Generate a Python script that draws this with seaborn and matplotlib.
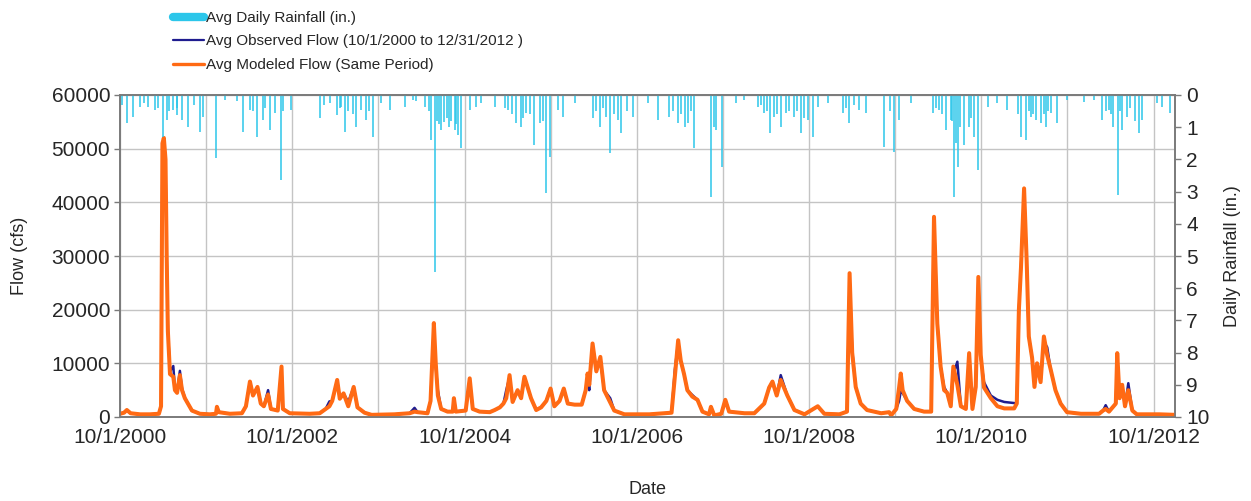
import matplotlib
matplotlib.use("Agg")
import matplotlib.pyplot as plt
import matplotlib.ticker as mticker
import pandas as pd
import seaborn as sns
from matplotlib.lines import Line2D

# ---------------- data ----------------
flow_dates = [
    "2000-10-01", "2000-10-18", "2000-10-30", "2000-11-15", "2000-12-25", "2001-02-05", "2001-03-15",
    "2001-03-24", "2001-03-30", "2001-04-05", "2001-04-12", "2001-04-17", "2001-04-22", "2001-05-01",
    "2001-05-15", "2001-05-22", "2001-05-31", "2001-06-12", "2001-06-21", "2001-07-03", "2001-07-16",
    "2001-08-02", "2001-09-05", "2001-10-17", "2001-11-12", "2001-11-16", "2001-11-24", "2002-01-10",
    "2002-03-02", "2002-03-19", "2002-04-05", "2002-04-18", "2002-05-07", "2002-05-21", "2002-06-03",
    "2002-06-21", "2002-07-03", "2002-08-01", "2002-08-17", "2002-08-23", "2002-09-21", "2002-12-14",
    "2003-01-26", "2003-02-20", "2003-03-08", "2003-03-20", "2003-04-10", "2003-04-21", "2003-05-07",
    "2003-05-27", "2003-06-19", "2003-07-05", "2003-08-04", "2003-09-03", "2003-12-09", "2004-02-11",
    "2004-03-03", "2004-03-16", "2004-04-27", "2004-05-10", "2004-05-24", "2004-06-01", "2004-06-10",
    "2004-06-24", "2004-07-21", "2004-08-12", "2004-08-17", "2004-08-25", "2004-10-06", "2004-10-23",
    "2004-11-05", "2004-12-04", "2005-01-16", "2005-02-06", "2005-02-28", "2005-03-15", "2005-03-27",
    "2005-04-10", "2005-04-23", "2005-05-14", "2005-05-29", "2005-06-12", "2005-07-10", "2005-08-01",
    "2005-08-22", "2005-09-13", "2005-10-01", "2005-10-17", "2005-11-08", "2005-11-26", "2005-12-13",
    "2006-01-11", "2006-02-10", "2006-02-27", "2006-03-07", "2006-03-14", "2006-03-28", "2006-04-13",
    "2006-04-30", "2006-05-16", "2006-06-11", "2006-06-28", "2006-08-10", "2006-09-22", "2006-11-24",
    "2007-02-26", "2007-03-12", "2007-03-26", "2007-04-06", "2007-04-20", "2007-05-04", "2007-05-25",
    "2007-06-16", "2007-07-07", "2007-08-04", "2007-08-12", "2007-08-26", "2007-09-25", "2007-10-12",
    "2007-10-28", "2008-01-01", "2008-02-12", "2008-03-25", "2008-04-15", "2008-04-29", "2008-05-17",
    "2008-06-03", "2008-07-01", "2008-07-31", "2008-09-12", "2008-11-07", "2008-12-05", "2009-02-07",
    "2009-03-11", "2009-03-22", "2009-04-02", "2009-04-17", "2009-05-08", "2009-06-04", "2009-08-03",
    "2009-09-06", "2009-09-14", "2009-10-06", "2009-10-18", "2009-10-25", "2009-11-02", "2009-11-21",
    "2009-12-21", "2010-02-01", "2010-03-03", "2010-03-15", "2010-03-29", "2010-04-12", "2010-04-27",
    "2010-05-10", "2010-05-25", "2010-06-05", "2010-06-22", "2010-07-07", "2010-07-28", "2010-08-11",
    "2010-08-25", "2010-09-08", "2010-09-19", "2010-09-29", "2010-10-13", "2010-11-11", "2010-12-09",
    "2011-01-07", "2011-02-18", "2011-03-01", "2011-03-10", "2011-03-19", "2011-04-01", "2011-04-12",
    "2011-04-21", "2011-05-05", "2011-05-15", "2011-05-26", "2011-06-10", "2011-06-24", "2011-07-08",
    "2011-07-22", "2011-08-12", "2011-09-03", "2011-09-30", "2011-11-28", "2012-02-13", "2012-03-01",
    "2012-03-12", "2012-03-26", "2012-04-24", "2012-04-30", "2012-05-10", "2012-05-21", "2012-06-02",
    "2012-06-16", "2012-07-03", "2012-07-22", "2012-10-25", "2012-12-31",
]
modeled_cfs = [
    600, 800, 1300, 700, 500, 500, 600,
    2000, 51000, 52000, 48000, 30000, 16000, 8000,
    7500, 5000, 4500, 7800, 5000, 3500, 2500,
    1200, 600, 500, 600, 1900, 900, 600,
    700, 2000, 6600, 4000, 5600, 2500, 2000,
    4200, 1500, 1200, 9400, 1500, 700, 600,
    700, 1500, 2000, 3000, 6900, 3400, 4400,
    2000, 5600, 1800, 800, 400, 500, 700,
    1000, 900, 700, 3000, 17500, 10000, 4000,
    1500, 1000, 1000, 3500, 1000, 1200, 7200,
    1500, 1000, 900, 1300, 1800, 2500, 3500,
    7800, 2800, 5000, 3500, 7500, 3500, 1300,
    1800, 3000, 5300, 2000, 3000, 5300, 2500,
    2300, 2300, 5000, 8100, 6000, 13700, 8500,
    11200, 5000, 2700, 1200, 500, 500, 500,
    800, 7500, 14300, 10500, 8000, 5000, 3800,
    3200, 1000, 500, 1900, 300, 600, 3200,
    1000, 700, 700, 2500, 5500, 6600, 4000,
    6900, 4000, 1300, 500, 2000, 600, 500,
    1000, 26800, 12000, 5600, 2500, 1300, 700,
    900, 300, 1500, 5500, 8100, 5000, 3000,
    1500, 1000, 1000, 37300, 17400, 9400, 5000,
    4500, 2000, 9400, 6000, 2000, 1500, 11900,
    1500, 5600, 26100, 11600, 5500, 3500, 2000,
    1600, 1600, 2500, 20000, 28000, 42600, 29000,
    15000, 11000, 5600, 10000, 6500, 15000, 11500,
    9000, 5000, 2500, 900, 600, 600, 1200,
    1500, 1000, 2500, 11900, 3500, 6000, 2000,
    5000, 1200, 500, 500, 400,
]
observed_cfs = [
    600, 800, 1300, 700, 500, 500, 600,
    2000, 50000, 51500, 47000, 30000, 16500, 8500,
    9500, 5200, 4800, 8600, 5300, 3600, 2500,
    1200, 600, 500, 600, 1900, 900, 600,
    700, 2000, 6600, 4000, 5600, 2500, 2000,
    5000, 1500, 1200, 9000, 1500, 700, 600,
    700, 1500, 2900, 3000, 6800, 3400, 4400,
    2800, 5600, 1800, 800, 400, 500, 700,
    1700, 900, 700, 3000, 17000, 9500, 5000,
    1500, 1000, 1000, 3500, 1000, 1200, 7000,
    1500, 1000, 900, 1300, 1800, 2500, 5000,
    7500, 2800, 5000, 3500, 7500, 3500, 1300,
    1800, 3000, 5300, 2000, 3000, 5300, 2500,
    2300, 2300, 5000, 7000, 5000, 13500, 8500,
    11000, 5000, 3500, 1200, 500, 500, 500,
    800, 8800, 14000, 10500, 8000, 5000, 4100,
    3200, 1000, 500, 1900, 300, 600, 3200,
    1000, 700, 700, 2500, 5500, 6600, 4000,
    7800, 4000, 1300, 500, 2000, 600, 500,
    1000, 26000, 12500, 5600, 2500, 1300, 700,
    900, 300, 1500, 3000, 4800, 4500, 3000,
    1500, 1000, 1000, 37000, 17400, 9400, 5600,
    4500, 2000, 8000, 10300, 2000, 1500, 11500,
    1500, 6500, 25500, 11000, 6500, 4000, 3200,
    2800, 2600, 2500, 20000, 28000, 42000, 29000,
    15000, 11000, 6500, 10000, 6500, 14000, 13000,
    9000, 5000, 2500, 900, 600, 600, 1200,
    2200, 1000, 2500, 11500, 3500, 6000, 2000,
    6300, 1200, 500, 500, 400,
]

rain_dates = [
    "2000-10-29", "2000-11-26", "2000-12-25", "2001-01-29", "2001-02-26", "2001-04-02", "2001-04-17",
    "2001-05-15", "2001-05-29", "2001-06-19", "2001-07-17", "2001-09-05", "2001-09-19", "2001-11-14",
    "2001-12-20", "2002-03-07", "2002-04-05", "2002-05-03", "2002-05-31", "2002-06-28", "2002-07-20",
    "2002-08-13", "2002-09-28", "2003-01-26", "2003-03-09", "2003-04-11", "2003-04-28", "2003-05-12",
    "2003-06-30", "2003-07-22", "2003-08-12", "2003-09-09", "2003-10-14", "2003-11-18", "2004-01-21",
    "2004-02-25", "2004-04-15", "2004-05-13", "2004-05-27", "2004-06-24", "2004-07-08", "2004-07-29",
    "2004-08-20", "2004-09-03", "2004-09-17", "2004-10-23", "2004-11-20", "2004-12-12", "2005-02-06",
    "2005-04-03", "2005-05-09", "2005-05-30", "2005-06-20", "2005-07-22", "2005-08-16", "2005-09-10",
    "2005-09-27", "2005-11-01", "2005-11-22", "2006-01-11", "2006-03-29", "2006-04-27", "2006-05-25",
    "2006-06-12", "2006-07-13", "2006-07-28", "2006-09-15", "2006-11-17", "2006-12-29", "2007-02-17",
    "2007-03-24", "2007-04-22", "2007-05-06", "2007-06-03", "2007-08-13", "2007-09-03", "2007-09-30",
    "2007-11-26", "2008-01-01", "2008-02-26", "2008-03-25", "2008-04-20", "2008-05-07", "2008-06-04",
    "2008-06-25", "2008-07-30", "2008-08-28", "2008-09-25", "2008-10-17", "2008-11-07", "2008-12-19",
    "2009-02-21", "2009-03-21", "2009-05-03", "2009-05-31", "2009-08-16", "2009-09-28", "2009-10-19",
    "2009-12-07", "2010-03-09", "2010-04-06", "2010-05-05", "2010-05-26", "2010-06-09", "2010-06-26",
    "2010-07-21", "2010-08-11", "2010-09-02", "2010-09-18", "2010-10-28", "2010-12-09", "2011-01-20",
    "2011-03-18", "2011-04-08", "2011-04-30", "2011-05-21", "2011-06-11", "2011-07-02", "2011-07-23",
    "2011-08-20", "2011-10-01", "2011-12-11", "2012-01-23", "2012-02-27", "2012-03-26", "2012-04-13",
    "2012-05-03", "2012-05-21", "2012-06-12", "2012-07-31", "2012-08-14", "2012-10-17", "2012-11-07",
    "2012-12-10",
    # smaller events in the dense fringe
    "2000-10-10", "2001-01-10", "2001-03-10", "2001-04-25", "2001-06-01", "2001-08-10", "2002-02-10",
    "2002-04-20", "2002-06-10", "2002-08-25", "2003-02-15", "2003-04-20", "2003-05-25", "2003-06-15",
    "2003-08-25", "2004-03-10", "2004-05-05", "2004-06-05", "2004-06-15", "2004-07-18", "2004-08-05",
    "2004-08-28", "2005-03-20", "2005-04-20", "2005-06-05", "2005-07-05", "2005-08-30", "2006-04-10",
    "2006-05-10", "2006-06-25", "2006-08-20", "2007-03-05", "2007-04-05", "2007-05-20", "2007-08-25",
    "2008-03-10", "2008-04-05", "2008-05-20", "2008-07-10", "2008-08-10", "2008-09-10", "2009-03-05",
    "2009-04-10", "2009-09-10", "2010-03-25", "2010-04-20", "2010-06-01", "2010-06-18", "2010-07-05",
    "2010-08-20", "2011-03-05", "2011-04-20", "2011-05-10", "2011-06-25", "2011-07-12", "2012-03-12",
    "2012-04-05", "2012-05-12", "2012-06-25", "2012-07-15",
]
rain_in = [
    0.88, 0.67, 0.36, 0.36, 0.47, 1.30, 0.78,
    0.47, 0.62, 0.78, 0.98, 1.14, 0.67, 1.97,
    0.16, 1.14, 0.47, 1.30, 0.78, 1.09, 0.57,
    2.64, 0.47, 0.72, 0.26, 0.62, 0.36, 1.14,
    0.98, 0.47, 0.78, 1.30, 0.26, 0.47, 0.36,
    0.16, 0.36, 1.40, 5.49, 1.09, 0.83, 0.98,
    1.09, 1.24, 1.66, 0.47, 0.36, 0.26, 0.36,
    0.47, 0.88, 0.98, 0.57, 1.55, 0.88, 3.05,
    1.91, 0.47, 0.67, 0.26, 0.72, 0.98, 0.67,
    1.81, 0.78, 1.19, 0.67, 0.26, 0.78, 0.67,
    0.88, 0.98, 0.88, 1.66, 3.16, 1.09, 2.23,
    0.26, 0.16, 0.36, 0.57, 1.19, 0.67, 0.98,
    0.57, 0.67, 1.19, 0.78, 1.30, 0.36, 0.26,
    0.57, 0.88, 0.47, 0.57, 1.60, 1.76, 0.78,
    0.26, 0.57, 0.47, 1.09, 0.78, 3.16, 2.23,
    1.55, 0.98, 1.30, 2.33, 0.36, 0.26, 0.47,
    1.30, 1.40, 0.67, 0.78, 0.88, 0.98, 0.57,
    0.88, 0.16, 0.21, 0.16, 0.78, 0.47, 0.98,
    3.10, 1.09, 0.67, 1.19, 0.78, 0.26, 0.36,
    0.57,
    0.30, 0.25, 0.40, 0.50, 0.40, 0.30, 0.20,
    0.50, 0.40, 0.50, 0.30, 0.40, 0.50, 0.60,
    0.50, 0.20, 0.50, 0.80, 0.90, 0.70, 0.80,
    0.90, 0.40, 0.60, 0.70, 0.60, 0.80, 0.50,
    0.40, 0.60, 0.50, 0.50, 0.60, 0.50, 1.00,
    0.30, 0.50, 0.60, 0.50, 0.50, 0.70, 0.40,
    0.30, 0.50, 0.40, 0.60, 0.80, 1.50, 1.00,
    0.70, 0.60, 0.50, 0.60, 0.60, 0.50, 0.50,
    0.60, 0.50, 0.40, 0.80,
]

xtick_dates = ["2000-10-01", "2001-10-01", "2002-10-01", "2003-10-01", "2004-10-01", "2005-10-01",
               "2006-10-01", "2007-10-01", "2008-10-01", "2009-10-01", "2010-10-01", "2011-10-01",
               "2012-10-01"]
xtick_labels = ["10/1/2000", "", "10/1/2002", "", "10/1/2004", "", "10/1/2006", "", "10/1/2008", "",
                "10/1/2010", "", "10/1/2012"]
flow_ticks = [0, 10000, 20000, 30000, 40000, 50000, 60000]
rain_ticks = [0, 1, 2, 3, 4, 5, 6, 7, 8, 9, 10]
x_start, x_end = "2000-10-01", "2012-12-31"

legend_labels = ["Avg Daily Rainfall (in.)",
                 "Avg Observed Flow (10/1/2000 to 12/31/2012 )",
                 "Avg Modeled Flow (Same Period)"]

# ---------------- style ----------------
sns.set_style("white")
plt.rcParams["font.family"] = ["Liberation Sans", "DejaVu Sans"]

RAIN_C = "#2CC6EA"
OBS_C = "#1F1C8F"
MOD_C = "#FF6A14"
GRID_C = "#C4C4C4"
SPINE_C = "#7A7A7A"

fig = plt.figure(figsize=(12.51, 5.01), dpi=100)
ax = fig.add_axes([120 / 1251, 1 - 417 / 501, 1055 / 1251, 322 / 501])

df = pd.DataFrame({
    "Date": pd.to_datetime(flow_dates),
    "Observed": observed_cfs,
    "Modeled": modeled_cfs,
})

sns.lineplot(data=df, x="Date", y="Observed", ax=ax, color=OBS_C, linewidth=1.8, zorder=3)
sns.lineplot(data=df, x="Date", y="Modeled", ax=ax, color=MOD_C, linewidth=2.9, zorder=4)

ax.set_xlim(pd.Timestamp(x_start), pd.Timestamp(x_end))
ax.set_ylim(0, 60000)
ax.yaxis.set_major_locator(mticker.FixedLocator(flow_ticks))
ax.xaxis.set_major_locator(mticker.FixedLocator(
    [matplotlib.dates.date2num(pd.Timestamp(d)) for d in xtick_dates]))
ax.xaxis.set_major_formatter(mticker.FixedFormatter(xtick_labels))
ax.grid(True, color=GRID_C, linewidth=1.0)
ax.set_axisbelow(True)
ax.tick_params(axis="both", direction="out", length=4, width=1, color=SPINE_C,
               labelsize=15, pad=3)
ax.tick_params(axis="x", pad=4)
for s in ax.spines.values():
    s.set_color(SPINE_C)
    s.set_linewidth(1.2)

ax.set_xlabel("Date", fontsize=13)
ax.set_ylabel("Flow (cfs)", fontsize=13)
ax.yaxis.set_label_coords(-0.087, 0.5)
ax.xaxis.set_label_coords(0.5, -0.2)

# rainfall on inverted secondary axis
ax2 = ax.twinx()
ax2.vlines(pd.to_datetime(rain_dates), 0, rain_in, color=RAIN_C, linewidth=1.1)
ax2.set_ylim(10, 0)
ax2.yaxis.set_major_locator(mticker.FixedLocator(rain_ticks))
ax2.tick_params(axis="y", direction="out", length=4, width=1, color=SPINE_C, labelsize=15, pad=4)
for s in ax2.spines.values():
    s.set_color(SPINE_C)
    s.set_linewidth(1.2)
ax2.set_ylabel("Daily Rainfall (in.)", fontsize=13)
ax2.yaxis.set_label_coords(1.0465, 0.5)
ax2.grid(False)

handles = [Line2D([0], [0], color=RAIN_C, linewidth=6),
           Line2D([0], [0], color=OBS_C, linewidth=1.6),
           Line2D([0], [0], color=MOD_C, linewidth=2.4)]
fig.legend(handles, legend_labels, loc="upper left", bbox_to_anchor=(173 / 1251, 0.978),
           frameon=False, fontsize=11, handlelength=2.0, handletextpad=0.15,
           labelspacing=0.62, borderpad=0, borderaxespad=0)

fig.savefig("out.png", dpi=100)
